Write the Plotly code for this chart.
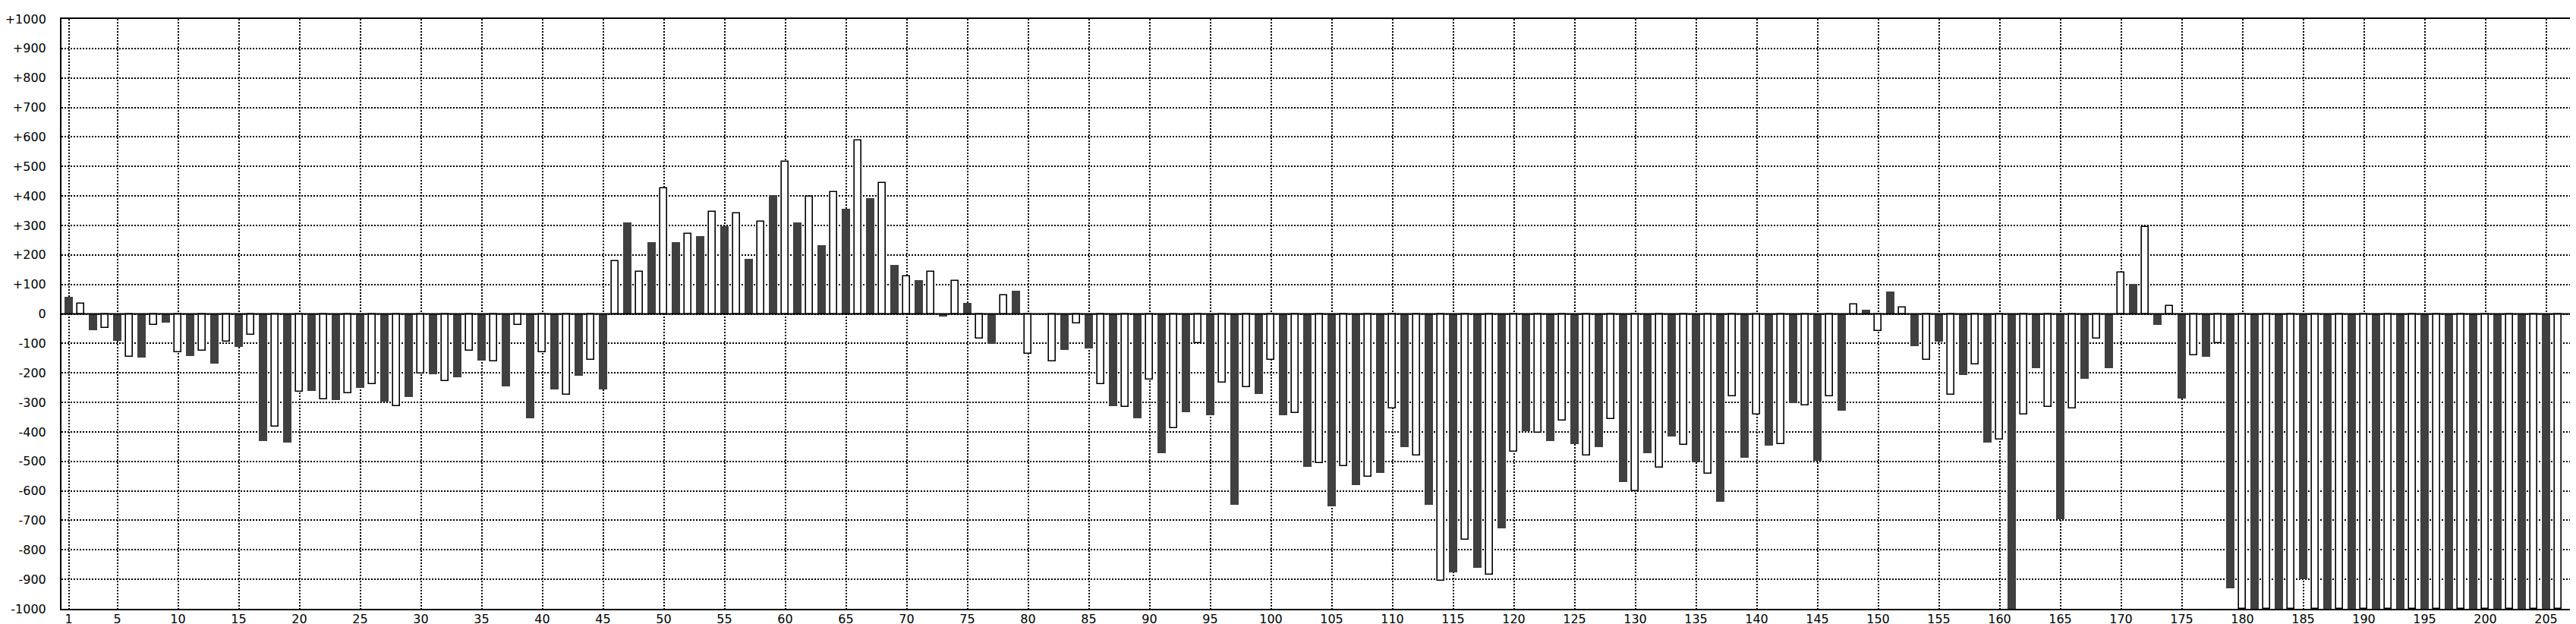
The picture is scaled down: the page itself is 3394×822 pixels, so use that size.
import plotly.graph_objects as go

# ---- data -------------------------------------------------------------
bar_index = list(range(1, 207))

values = [
    57, 35, -55, -48, -91, -145, -148, -38, -29, -131,
    -142, -125, -168, -95, -112, -70, -431, -383, -436, -265,
    -261, -290, -292, -270, -251, -239, -298, -312, -282, -203,
    -204, -229, -215, -125, -158, -162, -245, -38, -354, -131,
    -256, -275, -209, -156, -256, 179, 310, 143, 243, 427,
    243, 272, 263, 345, 298, 340, 187, 314, 404, 515,
    310, 397, 233, 412, 357, 589, 393, 443, 166, 128,
    114, 144, -9, 113, 37, -84, -101, 62, 78, -136,
    0, -162, -122, -33, -117, -239, -312, -316, -354, -223,
    -472, -388, -333, -100, -343, -233, -647, -249, -271, -156,
    -343, -336, -518, -506, -652, -517, -580, -553, -539, -321,
    -452, -481, -648, -904, -876, -766, -860, -884, -726, -466,
    -397, -403, -431, -362, -442, -481, -452, -357, -571, -600,
    -472, -522, -416, -444, -503, -543, -638, -279, -488, -342,
    -447, -441, -302, -311, -498, -278, -327, 32, 13, -57,
    75, 22, -110, -155, -94, -274, -208, -170, -435, -426,
    -1000, -341, -184, -315, -695, -321, -219, -83, -184, 140,
    101, 295, -38, 26, -286, -140, -146, -98, -930, -1000,
    -1000, -1000, -1000, -1000, -900, -1000, -1000, -1000, -1000, -1000,
    -1000, -1000, -1000, -1000, -1000, -1000, -1000, -1000, -1000, -1000,
    -1000, -1000, -1000, -1000, -1000, -1000,
]

x_tick_values = [1] + list(range(5, 206, 5))
x_tick_labels = [str(v) for v in x_tick_values]

y_tick_values = list(range(-1000, 1001, 100))
y_tick_labels = [("+" + str(v)) if v > 0 else str(v) for v in y_tick_values]

# odd bars: filled dark, even bars: white with black outline
dark_x = [i for i in bar_index if i % 2 == 1]
dark_y = [values[i - 1] for i in dark_x]
white_x = [i for i in bar_index if i % 2 == 0]
white_y = [values[i - 1] for i in white_x]

# ---- figure -----------------------------------------------------------
W, H = 3394, 822
ML, MR, MT, MB = 73, 0, 17, 28
px_per_bar = 16.0
x0 = 1 - (82.5 - ML) / px_per_bar
x1 = x0 + (W - ML - MR) / px_per_bar

fig = go.Figure()
fig.add_trace(go.Bar(
    x=dark_x, y=dark_y, width=0.69,
    marker=dict(color="#404040", line=dict(width=0)),
    showlegend=False, hoverinfo="skip",
))
fig.add_trace(go.Bar(
    x=white_x, y=white_y, width=0.58,
    marker=dict(color="#ffffff", line=dict(color="#000000", width=1.6)),
    showlegend=False, hoverinfo="skip",
))

font = dict(family="DejaVu Sans", size=16, color="#000000")
grid = dict(showgrid=True, gridcolor="#000000", gridwidth=2, griddash="2px,2px")

fig.update_layout(
    width=W, height=H, autosize=False,
    margin=dict(l=ML, r=MR, t=MT, b=MB, pad=0, autoexpand=False),
    paper_bgcolor="#ffffff", plot_bgcolor="#ffffff",
    barmode="overlay", bargap=0,
    font=font,
    xaxis=dict(
        range=[x0, x1], tickmode="array", tickvals=x_tick_values, ticktext=x_tick_labels,
        ticks="", ticklabelstandoff=-2, automargin=False,
        showline=True, linecolor="#000000", linewidth=2, mirror=True,
        zeroline=False, tickfont=font, **grid,
    ),
    yaxis=dict(
        range=[-1000, 1000], tickmode="array", tickvals=y_tick_values, ticktext=y_tick_labels,
        ticks="outside", ticklen=15, tickcolor="rgba(0,0,0,0)", automargin=False,
        showline=True, linecolor="#000000", linewidth=2,
        zeroline=False, tickfont=font, **grid,
    ),
)

# zero line drawn on top of the bars
fig.add_shape(type="line", xref="paper", yref="y", x0=0, x1=1, y0=0, y1=0,
              line=dict(color="#000000", width=2), layer="above")

# window chrome: two grey rules along the bottom edge
ph = H - MT - MB
pw = W - ML - MR
for ypx in (817, 821):
    yp = (H - MB - ypx) / ph
    fig.add_shape(type="line", xref="paper", yref="paper",
                  x0=-ML / pw, x1=1, y0=yp, y1=yp,
                  line=dict(color="#a0a0a0", width=2), layer="above")

fig.write_html("out.html")
